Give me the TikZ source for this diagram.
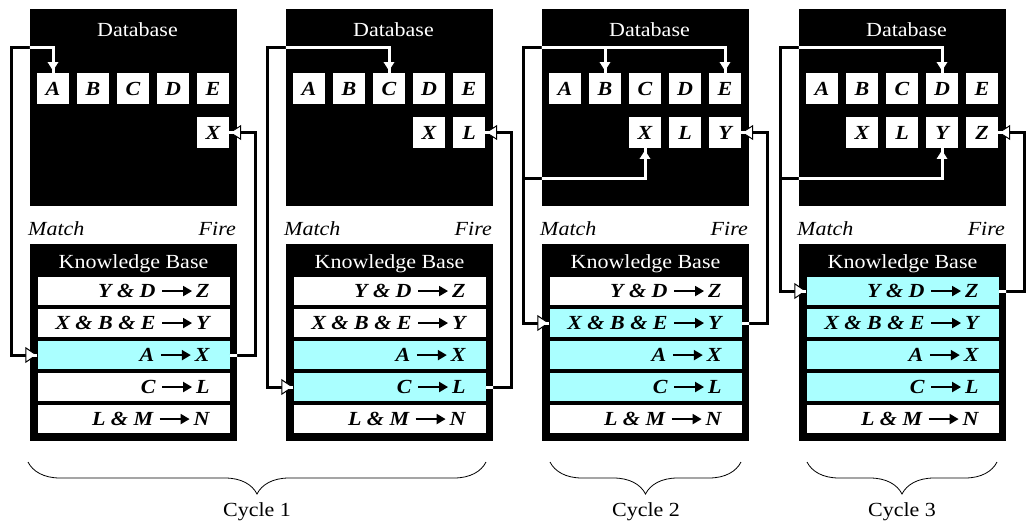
\documentclass[tikz,border=0pt]{standalone}
\usepackage{fontspec}
\setmainfont{Liberation Serif}[FakeStretch=1.1]
\usetikzlibrary{arrows.meta,decorations.pathreplacing}

\definecolor{kbhi}{HTML}{AAFFFF}

\tikzset{
  dbbox/.style={fill=black,minimum width=207pt,minimum height=197pt,inner sep=0pt},
  fact/.style={fill=white,minimum width=32pt,minimum height=31pt,inner sep=0pt,font=\bfseries\itshape},
  rulebox/.style={minimum width=192pt,minimum height=28pt,inner sep=0pt},
  ruletext/.style={anchor=east,inner sep=0pt,font=\bfseries\itshape},
  steplabel/.style={inner sep=0pt,font=\itshape},
  wire/.style={line width=3pt},
  onehead/.style={-{Triangle[length=12pt,width=15pt,fill=white,line width=1pt]}},
  twoheads/.style={{Triangle[length=12pt,width=16pt,fill=white,line width=1pt]}-{Triangle[length=12pt,width=15pt,fill=white,line width=1pt]}},
  cyclebrace/.style={decorate,decoration={brace,mirror,amplitude=32pt},line width=0.8pt},
}

% rule arrow inside the knowledge base rows
\newcommand\imp{\tikz[baseline=-6.5pt]\draw[line width=2pt,-{Triangle[length=9pt,width=10pt]}] (0pt,0pt) -- (30pt,0pt);\hspace{3pt}}

% match / fire loops, drawn twice (black, then white inside the boxes)
\newcommand\links{
  \draw[wire,twoheads] (r13.west) -| (m1) -| (f1A.north);
  \draw[wire,onehead] (r13.east) -| (k1) -- (f1X.east);
  \draw[wire,twoheads] (r24.west) -| (m2) -| (f2C.north);
  \draw[wire,onehead] (r24.east) -| (k2) -- (f2L.east);
  \draw[wire,twoheads] (r32.west) -| (m3) -| (f3B.north);
  \draw[wire,onehead] (m3) -| (f3E.north);
  \draw[wire,onehead] (b3) -| (f3X.south);
  \draw[wire,onehead] (r32.east) -| (k3) -- (f3Y.east);
  \draw[wire,twoheads] (r41.west) -| (m4) -| (f4D.north);
  \draw[wire,onehead] (b4) -| (f4Y.south);
  \draw[wire,onehead] (r41.east) -| (k4) -- (f4Z.east);
}

\begin{document}
\fontsize{20}{24}\selectfont
\begin{tikzpicture}[x=1pt,y=-1pt]
  \useasboundingbox (0,0) rectangle (1028,531);

  \foreach \p/\lx/\news/\lo/\hi in {1/30/{5/X}/3/3, 2/286/{4/X,5/L}/3/4,
      3/542/{3/X,4/L,5/Y}/2/4, 4/799/{2/X,3/L,4/Y,5/Z}/1/4}{
    % database
    \node[dbbox] (db\p) at (\lx+103.5,107.5) {};
    \node[white,anchor=base] (dt\p) at (\lx+107.5,36) {Database};
    \foreach \fa [count=\k] in {A,B,C,D,E}
      \node[fact] (f\p\fa) at (\lx+23+40*\k-40,88.5) {\fa};
    \foreach \k/\fa in \news
      \node[fact] (f\p\fa) at (\lx+23+40*\k-40,132.5) {\fa};
    \node[steplabel,anchor=base west] (ma\p) at (\lx-2,235) {Match};
    \node[steplabel,anchor=base east] (fi\p) at (\lx+206,235) {Fire};
    % knowledge base
    \node[dbbox] (kb\p) at (\lx+103.5,342.5) {};
    \node[white,anchor=base] (kt\p) at (\lx+103.5,268) {Knowledge Base};
    \foreach \row/\txt in {1/{Y \& D \imp Z}, 2/{X \& B \& E \imp Y}, 3/{A \imp X},
        4/{C \imp L}, 5/{L \& M \imp N}}{
      \ifnum\row<\lo \def\rfill{white}\else\ifnum\row>\hi \def\rfill{white}\else\def\rfill{kbhi}\fi\fi
      \node[rulebox,fill=\rfill] (r\p\row) at (\lx+103.5,259+32*\row) {};
      \node[ruletext] (t\p\row) at ([xshift=-20pt]r\p\row.east) {\txt};
    }
    \coordinate (m\p) at (\lx-19,47);
    \coordinate (b\p) at (\lx-19,178);
    \coordinate (k\p) at (\lx+225,132.5);
  }

  \links
  \begin{scope}[wire/.style={white,line width=3pt},onehead/.style={},twoheads/.style={}]
    \clip \foreach \p in {1,...,4} {(db\p.north west) rectangle (db\p.south east)
      (kb\p.north west) rectangle (kb\p.south east)};
    \links
  \end{scope}

  % cycles
  \draw[cyclebrace] (28,462) -- (486,462);
  \node[anchor=base] (c1) at (257,516) {Cycle 1};
  \draw[cyclebrace] (550,462) -- (741,462);
  \node[anchor=base] (c2) at (646,516) {Cycle 2};
  \draw[cyclebrace] (807,462) -- (997,462);
  \node[anchor=base] (c3) at (902,516) {Cycle 3};
\end{tikzpicture}
\end{document}
